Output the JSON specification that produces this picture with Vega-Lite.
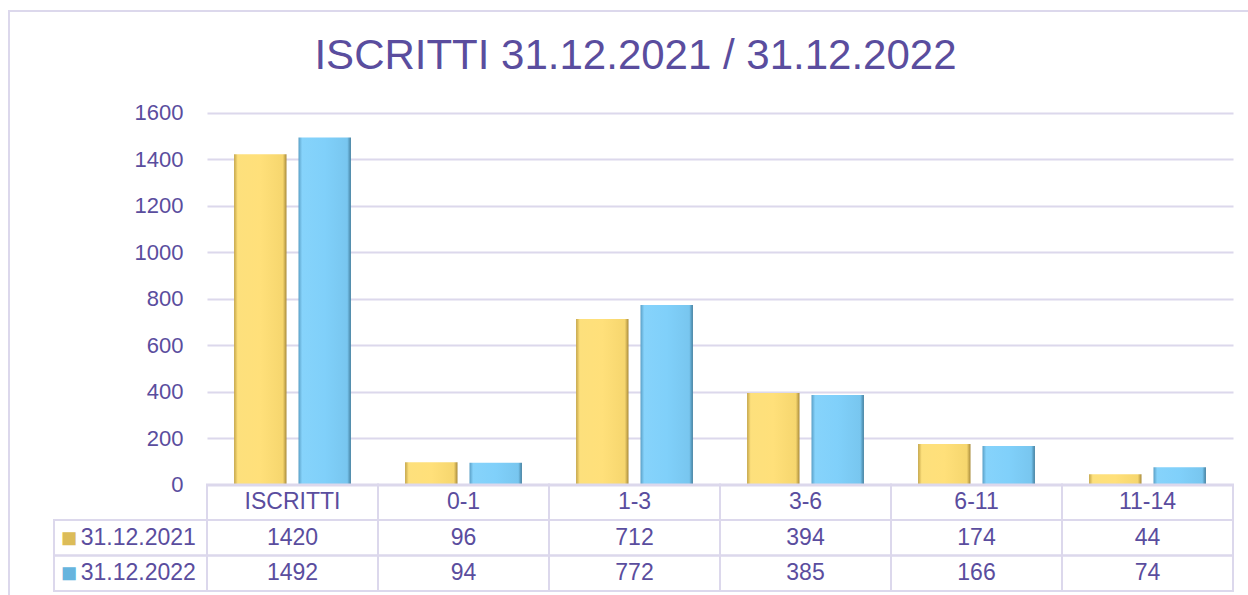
{
  "$schema": "https://vega.github.io/schema/vega-lite/v6.json",
  "width": 1241,
  "height": 586,
  "autosize": {"type": "none"},
  "padding": {"left": 9, "top": 11, "right": 0, "bottom": 0},
  "background": "white",
  "title": {
    "text": "ISCRITTI 31.12.2021 / 31.12.2022",
    "orient": "top",
    "anchor": "middle",
    "frame": "group",
    "baseline": "alphabetic",
    "offset": -100,
    "dx": 6,
    "font": "Liberation Sans",
    "fontSize": 42,
    "fontWeight": "normal",
    "color": "#5a4d9e"
  },
  "config": {
    "view": {"stroke": "#dcd8ec", "strokeWidth": 2},
    "font": "Liberation Sans"
  },
  "datasets": {
    "d": [
      {"cat": "ISCRITTI", "year": "31.12.2021", "value": 1420},
      {"cat": "ISCRITTI", "year": "31.12.2022", "value": 1492},
      {"cat": "0-1", "year": "31.12.2021", "value": 96},
      {"cat": "0-1", "year": "31.12.2022", "value": 94},
      {"cat": "1-3", "year": "31.12.2021", "value": 712},
      {"cat": "1-3", "year": "31.12.2022", "value": 772},
      {"cat": "3-6", "year": "31.12.2021", "value": 394},
      {"cat": "3-6", "year": "31.12.2022", "value": 385},
      {"cat": "6-11", "year": "31.12.2021", "value": 174},
      {"cat": "6-11", "year": "31.12.2022", "value": 166},
      {"cat": "11-14", "year": "31.12.2021", "value": 44},
      {"cat": "11-14", "year": "31.12.2022", "value": 74}
    ]
  },
  "data": {"name": "d"},
  "layer": [
    {
      "transform": [{"filter": "datum.year == '31.12.2021'"}],
      "mark": {
        "type": "bar",
        "color": {
          "gradient": "linear", "x1": 0, "x2": 1, "y1": 0, "y2": 0,
          "stops": [
            {"offset": 0, "color": "#c4a548"},
            {"offset": 0.07, "color": "#fde07c"},
            {"offset": 0.5, "color": "#ffe07a"},
            {"offset": 0.93, "color": "#f6d66e"},
            {"offset": 1, "color": "#a88a3a"}
          ]
        }
      },
      "encoding": {
        "x": {"field": "cat", "type": "nominal", "scale": {"domain": ["ISCRITTI", "0-1", "1-3", "3-6", "6-11", "11-14"], "range": [198, 1224], "paddingInner": 0, "paddingOuter": 0}, "axis": null},
        "xOffset": {"field": "year", "type": "nominal", "scale": {"domain": ["31.12.2021", "31.12.2022"], "paddingInner": 0.186, "paddingOuter": 0.42}},
        "y": {
          "field": "value", "type": "quantitative",
          "scale": {"domain": [0, 1600], "range": [473.5, 101.5], "nice": false},
          "axis": {
            "orient": "left", "offset": -198,
            "values": [0, 200, 400, 600, 800, 1000, 1200, 1400, 1600],
            "format": "d",
            "domain": false, "ticks": false, "tickSize": 0,
            "labelPadding": 24, "labelFontSize": 22, "labelColor": "#5a4d9e", "labelFont": "Liberation Sans",
            "grid": true, "gridColor": "#dcd8ec", "gridWidth": 2, "title": null
          }
        }
      }
    },
    {
      "transform": [{"filter": "datum.year == '31.12.2022'"}],
      "mark": {
        "type": "bar",
        "color": {
          "gradient": "linear", "x1": 0, "x2": 1, "y1": 0, "y2": 0,
          "stops": [
            {"offset": 0, "color": "#5a9fc6"},
            {"offset": 0.07, "color": "#86d3fb"},
            {"offset": 0.5, "color": "#80d0fa"},
            {"offset": 0.93, "color": "#78c6ef"},
            {"offset": 1, "color": "#437f9f"}
          ]
        }
      },
      "encoding": {
        "x": {"field": "cat", "type": "nominal", "scale": {"domain": ["ISCRITTI", "0-1", "1-3", "3-6", "6-11", "11-14"], "range": [198, 1224], "paddingInner": 0, "paddingOuter": 0}, "axis": null},
        "xOffset": {"field": "year", "type": "nominal", "scale": {"domain": ["31.12.2021", "31.12.2022"], "paddingInner": 0.186, "paddingOuter": 0.42}},
        "y": {"field": "value", "type": "quantitative", "scale": {"domain": [0, 1600], "range": [473.5, 101.5], "nice": false}, "axis": null}
      }
    },
    {
      "mark": {"type": "rect", "fill": "white", "fillOpacity": 0, "stroke": "#dcd8ec", "strokeWidth": 2},
      "encoding": {
        "x": {"field": "cat", "type": "nominal", "scale": {"domain": ["ISCRITTI", "0-1", "1-3", "3-6", "6-11", "11-14"], "range": [198, 1224], "paddingInner": 0, "paddingOuter": 0}, "axis": null},
        "y": {"field": "year", "type": "nominal", "scale": {"domain": ["hdr", "31.12.2021", "31.12.2022"], "range": [473.5, 580], "paddingInner": 0, "paddingOuter": 0}, "axis": null}
      }
    },
    {
      "transform": [{"filter": "datum.year == '31.12.2021'"}],
      "mark": {"type": "rect", "fill": "white", "fillOpacity": 0, "stroke": "#dcd8ec", "strokeWidth": 2},
      "encoding": {
        "x": {"field": "cat", "type": "nominal", "scale": {"domain": ["ISCRITTI", "0-1", "1-3", "3-6", "6-11", "11-14"], "range": [198, 1224], "paddingInner": 0, "paddingOuter": 0}, "axis": null},
        "y": {"datum": "hdr", "type": "nominal", "scale": {"domain": ["hdr", "31.12.2021", "31.12.2022"], "range": [473.5, 580], "paddingInner": 0, "paddingOuter": 0}, "axis": null}
      }
    },
    {
      "transform": [{"filter": "datum.cat == 'ISCRITTI'"}],
      "mark": {"type": "rect", "fill": "white", "fillOpacity": 0, "stroke": "#dcd8ec", "strokeWidth": 2},
      "encoding": {
        "x": {"datum": "leg", "type": "nominal", "scale": {"domain": ["leg"], "range": [45, 198], "paddingInner": 0, "paddingOuter": 0}, "axis": null},
        "y": {"field": "year", "type": "nominal", "scale": {"domain": ["hdr", "31.12.2021", "31.12.2022"], "range": [473.5, 580], "paddingInner": 0, "paddingOuter": 0}, "axis": null}
      }
    },
    {
      "mark": {"type": "text", "fontSize": 23, "font": "Liberation Sans", "color": "#5a4d9e", "baseline": "middle"},
      "encoding": {
        "x": {"field": "cat", "type": "nominal", "scale": {"domain": ["ISCRITTI", "0-1", "1-3", "3-6", "6-11", "11-14"], "range": [198, 1224], "paddingInner": 0, "paddingOuter": 0}, "axis": null},
        "y": {"field": "year", "type": "nominal", "scale": {"domain": ["hdr", "31.12.2021", "31.12.2022"], "range": [473.5, 580], "paddingInner": 0, "paddingOuter": 0}, "axis": null},
        "text": {"field": "value", "type": "quantitative", "format": "d"}
      }
    },
    {
      "transform": [{"filter": "datum.year == '31.12.2021'"}],
      "mark": {"type": "text", "fontSize": 23, "font": "Liberation Sans", "color": "#5a4d9e", "baseline": "middle"},
      "encoding": {
        "x": {"field": "cat", "type": "nominal", "scale": {"domain": ["ISCRITTI", "0-1", "1-3", "3-6", "6-11", "11-14"], "range": [198, 1224], "paddingInner": 0, "paddingOuter": 0}, "axis": null},
        "y": {"datum": "hdr", "type": "nominal", "scale": {"domain": ["hdr", "31.12.2021", "31.12.2022"], "range": [473.5, 580], "paddingInner": 0, "paddingOuter": 0}, "axis": null},
        "text": {"field": "cat", "type": "nominal"}
      }
    },
    {
      "transform": [{"filter": "datum.cat == 'ISCRITTI'"}],
      "mark": {"type": "text", "fontSize": 27, "font": "Liberation Sans", "baseline": "middle", "align": "center", "dx": -61.5, "dy": 1},
      "encoding": {
        "x": {"datum": "leg", "type": "nominal", "scale": {"domain": ["leg"], "range": [45, 198], "paddingInner": 0, "paddingOuter": 0}, "axis": null},
        "y": {"field": "year", "type": "nominal", "scale": {"domain": ["hdr", "31.12.2021", "31.12.2022"], "range": [473.5, 580], "paddingInner": 0, "paddingOuter": 0}, "axis": null},
        "text": {"value": "■"},
        "color": {"field": "year", "type": "nominal", "scale": {"domain": ["31.12.2021", "31.12.2022"], "range": ["#dcbc58", "#66b4de"]}, "legend": null}
      }
    },
    {
      "transform": [{"filter": "datum.cat == 'ISCRITTI'"}],
      "mark": {"type": "text", "fontSize": 23, "font": "Liberation Sans", "color": "#5a4d9e", "baseline": "middle", "align": "left", "dx": -49.8},
      "encoding": {
        "x": {"datum": "leg", "type": "nominal", "scale": {"domain": ["leg"], "range": [45, 198], "paddingInner": 0, "paddingOuter": 0}, "axis": null},
        "y": {"field": "year", "type": "nominal", "scale": {"domain": ["hdr", "31.12.2021", "31.12.2022"], "range": [473.5, 580], "paddingInner": 0, "paddingOuter": 0}, "axis": null},
        "text": {"field": "year", "type": "nominal"}
      }
    }
  ],
  "resolve": {
    "scale": {"x": "independent", "y": "independent", "xOffset": "independent", "color": "independent"},
    "axis": {"x": "independent", "y": "independent"}
  }
}
